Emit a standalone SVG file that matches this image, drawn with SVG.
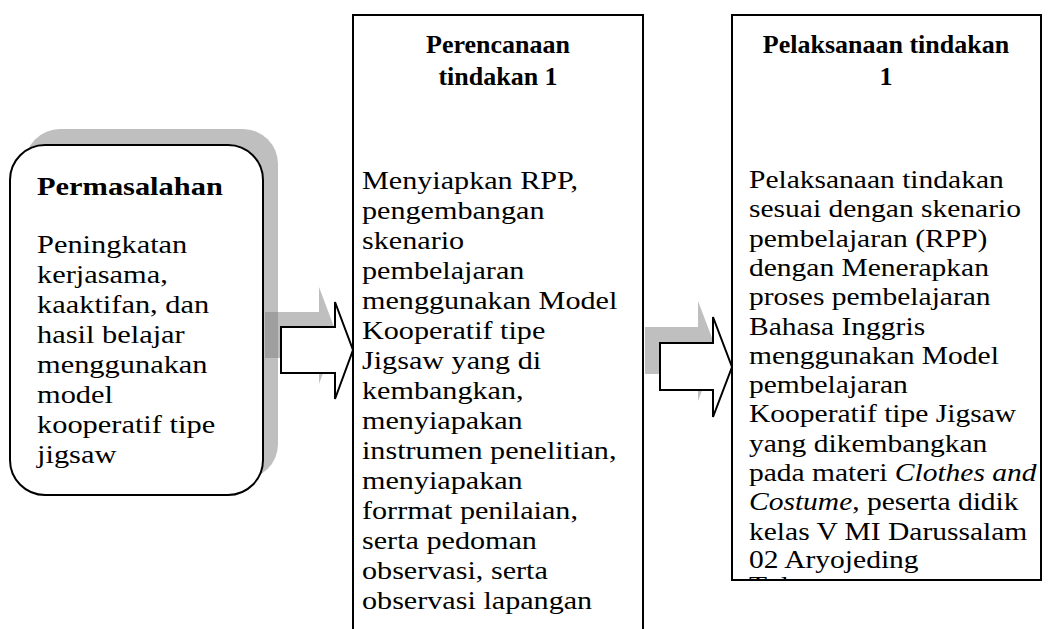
<svg xmlns="http://www.w3.org/2000/svg" width="1051" height="629" viewBox="0 0 1051 629">
<defs>
<style>
.box{fill:#fff;stroke:#000;stroke-width:2}
.shadow{fill:#808080;fill-opacity:0.5}
.arrow{fill:#fff;stroke:#000;stroke-width:2;stroke-linejoin:miter}
.t{font-family:"Liberation Serif","Times New Roman",serif;font-size:26px;fill:#000}
.h{font-weight:bold}
.hc{text-anchor:middle}
.i{font-style:italic}
</style>
<clipPath id="clipR"><rect x="733" y="16" width="307" height="563"/></clipPath>
</defs>
<g id="connectors">
<path class="shadow" d="M265,312 H319 V287 L337,335 L319,384 V358 H265 Z"/>
<path class="shadow" d="M645,327 H698 V301 L717,351 L698,401 V374 H645 Z"/>
</g>
<g id="node-permasalahan">
<rect class="shadow" x="25" y="129" width="253" height="350" rx="35"/>
<rect class="box" x="10" y="145" width="253" height="350" rx="35"/>
<g transform="translate(37,0) scale(1.17,1)">
<text class="t h" x="0" y="195">Permasalahan</text>
<text class="t" x="0" y="253">Peningkatan</text>
<text class="t" x="0" y="283">kerjasama,</text>
<text class="t" x="0" y="313">kaaktifan, dan</text>
<text class="t" x="0" y="343">hasil belajar</text>
<text class="t" x="0" y="373">menggunakan</text>
<text class="t" x="0" y="403">model</text>
<text class="t" x="0" y="433">kooperatif tipe</text>
<text class="t" x="0" y="463">jigsaw</text>
</g>
</g>
<g id="arrows">
<path class="arrow" d="M281,327 H335 V302 L353,350 L335,399 V373 H281 Z"/>
<path class="arrow" d="M660,343 H713 V317 L732,367 L713,417 V390 H660 Z"/>
</g>
<g id="node-perencanaan">
<path class="box" d="M353,640 V15 H643 V640"/>
<text class="t h hc" x="498" y="53">Perencanaan</text>
<text class="t h hc" x="498" y="85">tindakan 1</text>
<g transform="translate(362,0) scale(1.16,1)">
<text class="t" x="0" y="189">Menyiapkan RPP,</text>
<text class="t" x="0" y="219">pengembangan</text>
<text class="t" x="0" y="249">skenario</text>
<text class="t" x="0" y="279">pembelajaran</text>
<text class="t" x="0" y="309">menggunakan Model</text>
<text class="t" x="0" y="339">Kooperatif tipe</text>
<text class="t" x="0" y="369">Jigsaw yang di</text>
<text class="t" x="0" y="399">kembangkan,</text>
<text class="t" x="0" y="429">menyiapakan</text>
<text class="t" x="0" y="459">instrumen penelitian,</text>
<text class="t" x="0" y="489">menyiapakan</text>
<text class="t" x="0" y="519">forrmat penilaian,</text>
<text class="t" x="0" y="549">serta pedoman</text>
<text class="t" x="0" y="579">observasi, serta</text>
<text class="t" x="0" y="609">observasi lapangan</text>
</g>
</g>
<g id="node-pelaksanaan">
<rect class="box" x="732" y="15" width="309" height="565"/>
<text class="t h hc" x="886" y="53">Pelaksanaan tindakan</text>
<text class="t h hc" x="886" y="85">1</text>
<g clip-path="url(#clipR)">
<g transform="translate(749,0) scale(1.135,1)">
<text class="t" x="0" y="188">Pelaksanaan tindakan</text>
<text class="t" x="0" y="217">sesuai dengan skenario</text>
<text class="t" x="0" y="247">pembelajaran (RPP)</text>
<text class="t" x="0" y="276">dengan Menerapkan</text>
<text class="t" x="0" y="305">proses pembelajaran</text>
<text class="t" x="0" y="335">Bahasa Inggris</text>
<text class="t" x="0" y="364">menggunakan Model</text>
<text class="t" x="0" y="393">pembelajaran</text>
<text class="t" x="0" y="422">Kooperatif tipe Jigsaw</text>
<text class="t" x="0" y="452">yang dikembangkan</text>
<text class="t" x="0" y="481">pada materi <tspan class="i">Clothes and</tspan></text>
<text class="t" x="0" y="510"><tspan class="i">Costume</tspan>, peserta didik</text>
<text class="t" x="0" y="540">kelas V MI Darussalam</text>
<text class="t" x="0" y="568">02 Aryojeding</text>
<text class="t" x="0" y="594">Tulungagung</text>
</g>
</g>
</g>
</svg>
